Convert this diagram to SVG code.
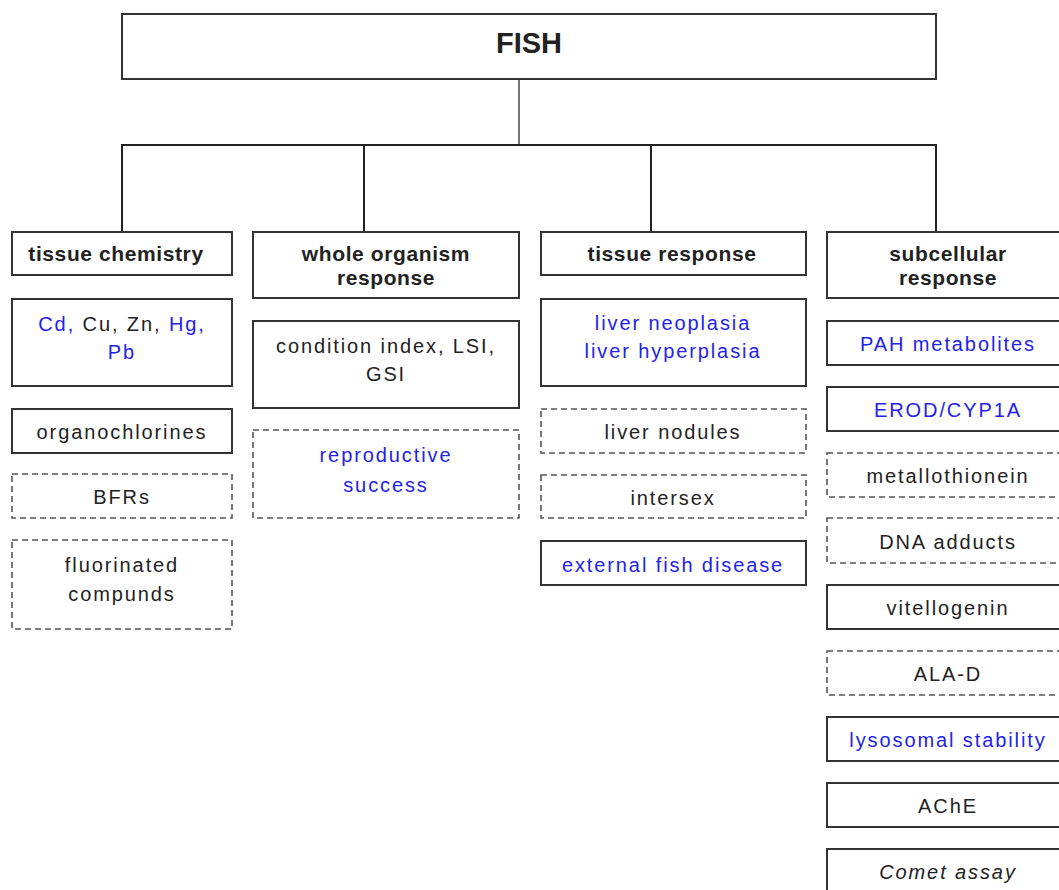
<svg xmlns="http://www.w3.org/2000/svg" width="1059" height="890" viewBox="0 0 1059 890">
<style>
.box{fill:#fff;stroke:#333;stroke-width:2}
.dash{fill:#fff;stroke:#555;stroke-width:1.6;stroke-dasharray:6 4}
.ln{stroke:#222;stroke-width:2;fill:none}
text{font-family:"Liberation Sans",Arial,sans-serif;font-size:20px;text-anchor:middle;fill:#222;letter-spacing:1.9px}
.hd{font-weight:bold;font-size:21px;letter-spacing:0.6px}
.bl{fill:#2222ee}
</style>
<rect width="1059" height="890" fill="#fff"/>
<g id="connectors">
<line class="ln" x1="519" y1="79" x2="519" y2="145" style="stroke:#777"/>
<polyline class="ln" points="122,232 122,145 936,145 936,232"/>
<line class="ln" x1="364" y1="145" x2="364" y2="232"/>
<line class="ln" x1="651" y1="145" x2="651" y2="232"/>
</g>
<g id="fish"><rect class="box" x="122" y="14" width="814" height="65"/><text x="529" y="53" class="hd" style="font-size:29px;letter-spacing:0">FISH</text></g>

<g id="tissue-chemistry"><rect class="box" x="12" y="232" width="220" height="43"/><text class="hd" x="116" y="261">tissue chemistry</text></g>
<g id="metals"><rect class="box" x="12" y="299" width="220" height="87"/><text x="122" y="331"><tspan class="bl">Cd,</tspan> Cu, Zn, <tspan class="bl">Hg,</tspan></text><text x="122" y="359" class="bl">Pb</text></g>
<g id="organochlorines"><rect class="box" x="12" y="409" width="220" height="44"/><text x="122" y="439">organochlorines</text></g>
<g id="bfrs"><rect class="dash" x="12" y="474" width="220" height="44"/><text x="122" y="504">BFRs</text></g>
<g id="fluorinated"><rect class="dash" x="12" y="540" width="220" height="89"/><text x="122" y="572">fluorinated</text><text x="122" y="601">compunds</text></g>

<g id="whole-organism"><rect class="box" x="253" y="232" width="266" height="66"/><text class="hd" x="386" y="261">whole organism</text><text class="hd" x="386" y="285">response</text></g>
<g id="condition"><rect class="box" x="253" y="321" width="266" height="87"/><text x="386" y="353">condition index, LSI,</text><text x="386" y="381">GSI</text></g>
<g id="reproductive"><rect class="dash" x="253" y="430" width="266" height="88"/><text x="386" y="462" class="bl">reproductive</text><text x="386" y="492" class="bl">success</text></g>

<g id="tissue-response"><rect class="box" x="541" y="232" width="265" height="43"/><text class="hd" x="672" y="261">tissue response</text></g>
<g id="liver"><rect class="box" x="541" y="299" width="265" height="87"/><text x="673" y="330" class="bl">liver neoplasia</text><text x="673" y="358" class="bl">liver hyperplasia</text></g>
<g id="nodules"><rect class="dash" x="541" y="409" width="265" height="44"/><text x="673" y="439">liver nodules</text></g>
<g id="intersex"><rect class="dash" x="541" y="475" width="265" height="43"/><text x="673" y="505">intersex</text></g>
<g id="external"><rect class="box" x="541" y="541" width="265" height="44"/><text x="673" y="572" class="bl">external fish disease</text></g>

<g id="subcellular"><rect class="box" x="827" y="232" width="242" height="66"/><text class="hd" x="948" y="261">subcellular</text><text class="hd" x="948" y="285">response</text></g>
<g id="pah"><rect class="box" x="827" y="321" width="242" height="44"/><text x="948" y="351" class="bl">PAH metabolites</text></g>
<g id="erod"><rect class="box" x="827" y="387" width="242" height="44"/><text x="948" y="417" class="bl">EROD/CYP1A</text></g>
<g id="metallothionein"><rect class="dash" x="827" y="453" width="242" height="44"/><text x="948" y="483">metallothionein</text></g>
<g id="dna"><rect class="dash" x="827" y="518" width="242" height="45"/><text x="948" y="549">DNA adducts</text></g>
<g id="vitellogenin"><rect class="box" x="827" y="585" width="242" height="44"/><text x="948" y="615">vitellogenin</text></g>
<g id="alad"><rect class="dash" x="827" y="651" width="242" height="44"/><text x="948" y="681">ALA-D</text></g>
<g id="lysosomal"><rect class="box" x="827" y="717" width="242" height="44"/><text x="948" y="747" class="bl">lysosomal stability</text></g>
<g id="ache"><rect class="box" x="827" y="783" width="242" height="44"/><text x="948" y="813">AChE</text></g>
<g id="comet"><rect class="box" x="827" y="849" width="242" height="60"/><text x="948" y="879" style="font-style:italic">Comet assay</text></g>
</svg>
